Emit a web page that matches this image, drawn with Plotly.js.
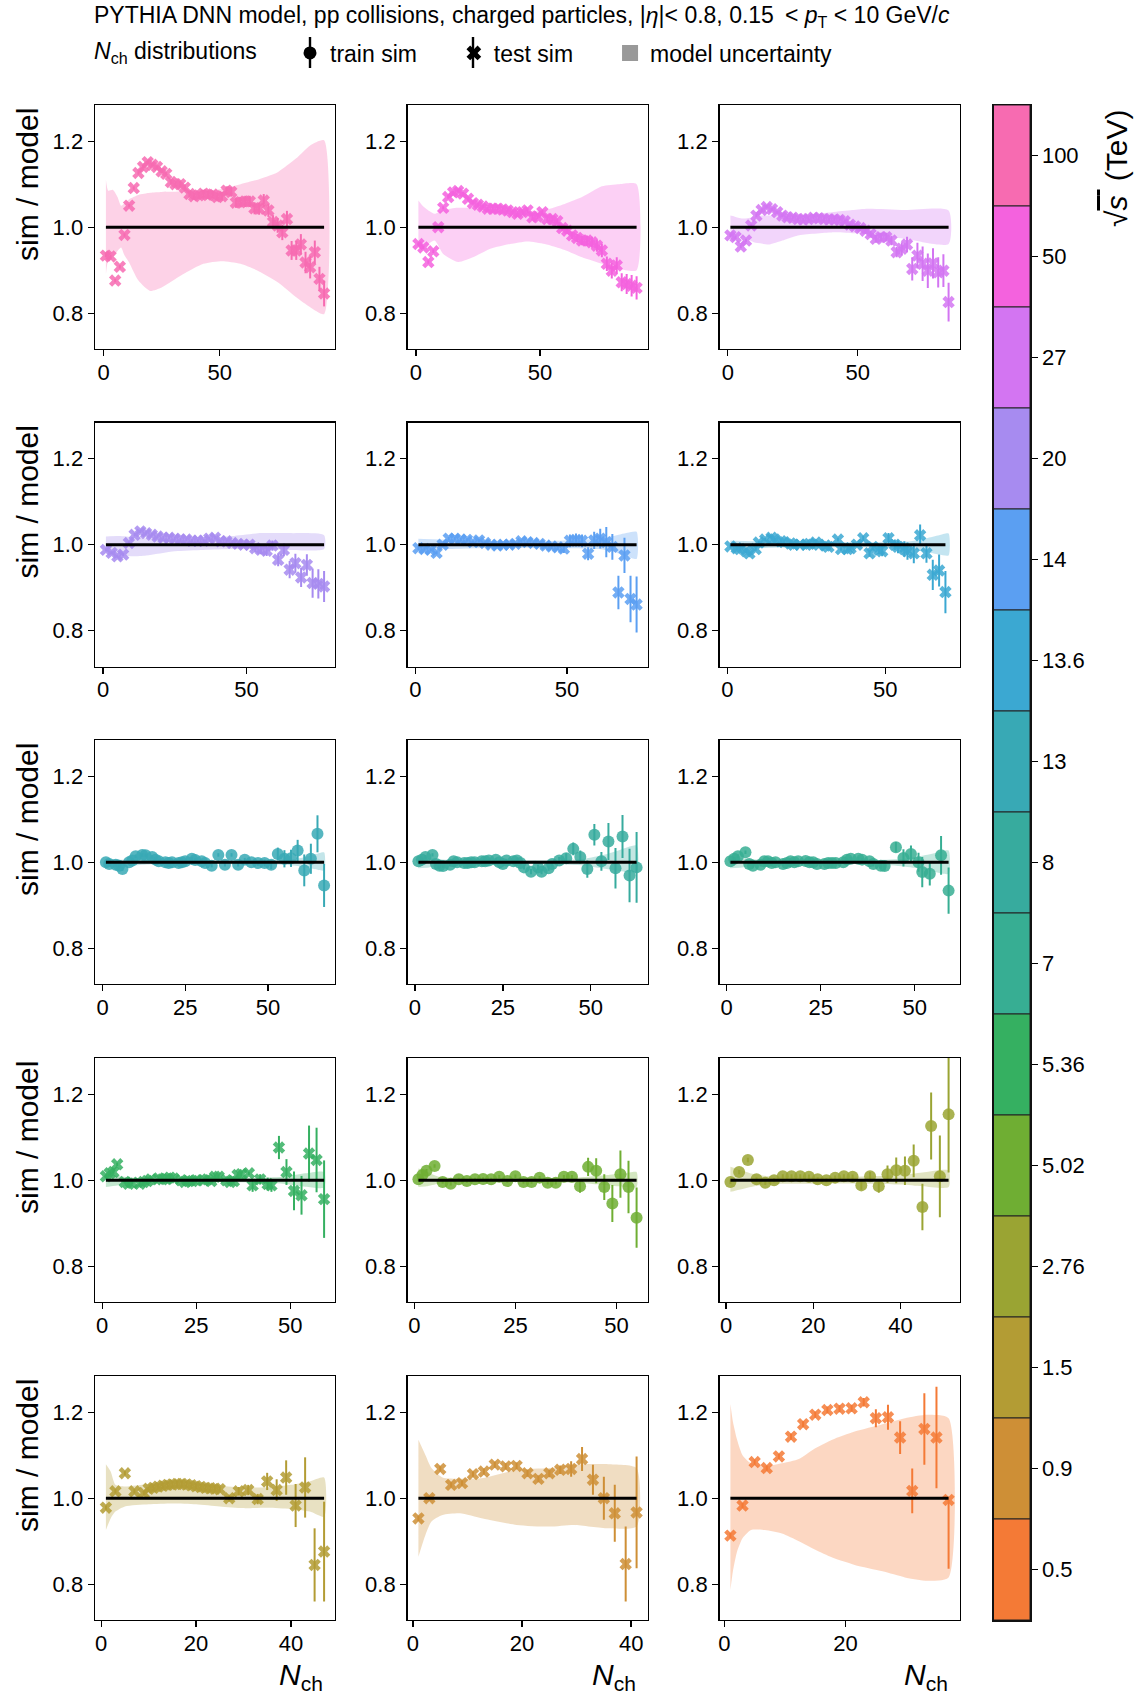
<!DOCTYPE html>
<html><head><meta charset="utf-8">
<script src="https://cdn.plot.ly/plotly-3.0.1.min.js"></script>
<style>html,body{margin:0;padding:0;background:#fff}#chart{width:1140px;height:1697px}</style>
</head><body><div id="chart"></div>
<script>
// ---------------- data ----------------
const energies = ["100","50","27","20","14","13.6","13","8","7","5.36","5.02","2.76","1.5","0.9","0.5"];
const colors = ["#f76bb1","#f462de","#d375f2","#a78bf0","#5b9ff2","#3ba8d2","#38a9b5","#37ab9e","#37ae93","#35b061","#6fae33","#9aa433","#b39c34","#ce8f36","#f47a36"];
const isTrain = [false,false,false,false,false,false,true,true,true,false,true,true,false,false,false];
const refRatio = 1.0;

const nch_100 = [1,3,5,7,9,11,13,15,17,19,21,23,25,27,29,31,33,35,37,39,41,43,45,47,49,51,53,55,57,59,61,63,65,67,69,71,73,75,77,79,81,83,85,87,89,91,93,95];
const ratio_100 = [0.934,0.932,0.876,0.908,0.982,1.05,1.091,1.126,1.14,1.151,1.145,1.14,1.13,1.124,1.105,1.10,1.10,1.092,1.077,1.072,1.074,1.078,1.075,1.076,1.07,1.072,1.085,1.082,1.057,1.058,1.06,1.06,1.044,1.043,1.062,1.039,1.012,1.004,0.988,1.019,0.946,0.946,0.96,0.918,0.907,0.942,0.88,0.846];
const err_100 = [0.004,0.004,0.004,0.004,0.004,0.004,0.004,0.004,0.004,0.004,0.004,0.004,0.004,0.004,0.006,0.006,0.007,0.007,0.008,0.008,0.008,0.009,0.009,0.009,0.01,0.01,0.01,0.011,0.012,0.012,0.013,0.013,0.014,0.014,0.015,0.015,0.016,0.017,0.018,0.019,0.022,0.022,0.024,0.025,0.026,0.027,0.028,0.03];
const band_nch_100 = [1,2,4,6,7.5,9,11,15,20,25,34,43,51,59,66,75,83,89,95];
const band_hi_100 = [1.11,1.085,1.087,1.07,1.05,1.055,1.065,1.075,1.08,1.082,1.083,1.085,1.089,1.10,1.11,1.128,1.16,1.19,1.202];
const band_lo_100 = [0.891,0.922,0.93,0.945,0.953,0.935,0.918,0.876,0.852,0.86,0.89,0.915,0.921,0.915,0.90,0.872,0.837,0.814,0.798];

const nch_50 = [1,3,5,7,9,11,13,15,17,19,21,23,25,27,29,31,33,35,37,39,41,43,45,47,49,51,53,55,57,59,61,63,65,67,69,71,73,75,77,79,81,83,85,87,89];
const ratio_50 = [0.961,0.953,0.919,0.944,1.0,1.045,1.07,1.081,1.084,1.078,1.066,1.056,1.052,1.048,1.043,1.043,1.043,1.041,1.039,1.035,1.031,1.035,1.039,1.023,1.025,1.035,1.019,1.019,1.014,0.998,0.992,0.981,0.975,0.969,0.969,0.965,0.957,0.946,0.915,0.899,0.911,0.872,0.868,0.864,0.859];
const err_50 = [0.004,0.004,0.004,0.004,0.004,0.004,0.004,0.004,0.004,0.004,0.004,0.004,0.004,0.004,0.004,0.004,0.004,0.004,0.004,0.004,0.006,0.006,0.006,0.006,0.006,0.006,0.006,0.006,0.006,0.006,0.008,0.009,0.01,0.011,0.012,0.013,0.014,0.016,0.017,0.018,0.019,0.021,0.023,0.025,0.027];
const band_nch_50 = [1,3,7.5,11,17,23,30,38,45,52,60,67,75,82,89];
const band_hi_50 = [1.062,1.048,1.031,1.04,1.045,1.045,1.042,1.04,1.038,1.04,1.054,1.07,1.095,1.1,1.1];
const band_lo_50 = [0.953,0.953,0.969,0.938,0.919,0.93,0.95,0.961,0.967,0.961,0.947,0.93,0.915,0.903,0.90];

const nch_27 = [1,3,5,7,9,11,13,15,17,19,21,23,25,27,29,31,33,35,37,39,41,43,45,47,49,51,53,55,57,59,61,63,65,67,69,71,73,75,77,79,81,83,85];
const ratio_27 = [0.981,0.977,0.955,0.969,1.004,1.027,1.04,1.047,1.042,1.035,1.027,1.023,1.022,1.019,1.018,1.019,1.022,1.021,1.019,1.018,1.018,1.017,1.014,1.006,1.002,0.998,0.992,0.984,0.973,0.977,0.977,0.969,0.942,0.95,0.96,0.903,0.934,0.915,0.899,0.916,0.895,0.899,0.826];
const err_27 = [0.004,0.004,0.004,0.004,0.004,0.004,0.004,0.004,0.004,0.004,0.004,0.004,0.004,0.004,0.004,0.004,0.004,0.004,0.004,0.004,0.004,0.004,0.004,0.004,0.006,0.007,0.008,0.008,0.009,0.01,0.01,0.011,0.012,0.015,0.018,0.027,0.03,0.04,0.04,0.035,0.035,0.038,0.045];
const band_nch_27 = [1,3,6,10,13,16,21,27,40,48,54,68,85];
const band_hi_27 = [1.027,1.024,1.02,1.024,1.027,1.027,1.027,1.027,1.035,1.04,1.043,1.04,1.039];
const band_lo_27 = [0.981,0.979,0.977,0.965,0.962,0.96,0.969,0.981,0.988,0.986,0.984,0.973,0.961];

const nch_20 = [1,3,5,7,9,11,13,15,17,19,21,23,25,27,29,31,33,35,37,39,41,43,45,47,49,51,53,55,57,59,61,63,65,67,69,71,73,75,77];
const ratio_20 = [0.988,0.981,0.973,0.977,1.004,1.023,1.031,1.027,1.023,1.019,1.016,1.016,1.014,1.012,1.012,1.009,1.009,1.009,1.014,1.016,1.008,1.008,1.004,1.002,1.0,1.0,0.992,0.988,0.986,0.998,0.965,0.988,0.942,0.957,0.924,0.953,0.911,0.909,0.903];
const err_20 = [0.004,0.004,0.004,0.004,0.004,0.004,0.004,0.004,0.004,0.004,0.004,0.004,0.004,0.004,0.004,0.004,0.004,0.004,0.004,0.004,0.004,0.004,0.004,0.004,0.004,0.004,0.01,0.01,0.012,0.012,0.015,0.015,0.02,0.022,0.022,0.025,0.034,0.034,0.036];
const band_nch_20 = [1,5,10,15,25,35,45,55,65,77];
const band_hi_20 = [1.019,1.02,1.018,1.015,1.013,1.014,1.02,1.027,1.027,1.022];
const band_lo_20 = [0.984,0.978,0.973,0.975,0.985,0.988,0.99,0.99,0.988,0.99];

const nch_14 = [1,3,5,7,9,11,13,15,17,19,21,23,25,27,29,31,33,35,37,39,41,43,45,47,49,51,53,55,57,59,61,63,65,67,69,71,73];
const ratio_14 = [0.992,0.990,0.988,0.981,1.0,1.014,1.014,1.012,1.011,1.006,1.010,1.004,1.0,0.998,1.0,1.0,1.002,1.008,1.006,1.004,1.002,0.998,0.996,0.994,0.991,1.009,1.011,1.009,0.979,1.01,1.014,1.006,0.995,0.889,0.975,0.874,0.861];
const err_14 = [0.004,0.004,0.004,0.004,0.004,0.004,0.004,0.004,0.004,0.004,0.004,0.004,0.004,0.004,0.004,0.004,0.004,0.004,0.004,0.004,0.006,0.006,0.006,0.006,0.01,0.015,0.015,0.015,0.015,0.02,0.023,0.035,0.03,0.039,0.041,0.054,0.065];
const band_nch_14 = [1,10,20,30,40,50,60,65,70,73];
const band_hi_14 = [1.014,1.012,1.01,1.008,1.008,1.01,1.014,1.02,1.028,1.03];
const band_lo_14 = [0.988,0.99,0.992,0.993,0.993,0.992,0.99,0.985,0.972,0.967];

const nch_13p6 = [1,3,4,6,7,9,10,12,14,15,17,18,20,21,23,25,26,28,29,31,32,35,36,38,39,41,43,45,46,48,49,51,53,54,56,57,59,61,63,65,67,69];
const ratio_13p6 = [0.996,0.992,0.99,0.985,0.98,0.99,1.005,1.012,1.016,1.012,1.008,1.006,1.003,1.0,1.0,1.0,1.002,1.005,1.0,0.998,0.995,1.012,0.99,0.99,0.992,1.0,1.015,0.98,0.995,0.988,0.985,1.015,1.0,0.995,0.99,0.985,0.98,1.022,0.98,0.93,0.94,0.89];
const err_13p6 = [0.004,0.004,0.004,0.004,0.004,0.004,0.004,0.004,0.004,0.004,0.004,0.004,0.004,0.004,0.004,0.004,0.004,0.004,0.004,0.004,0.004,0.004,0.004,0.004,0.004,0.004,0.006,0.008,0.008,0.01,0.012,0.012,0.012,0.015,0.018,0.02,0.023,0.025,0.022,0.035,0.037,0.049];
const band_nch_13p6 = [1,10,20,30,40,50,58,63,67,70];
const band_hi_13p6 = [1.01,1.008,1.006,1.006,1.006,1.006,1.008,1.015,1.022,1.026];
const band_lo_13p6 = [0.99,0.992,0.994,0.994,0.994,0.993,0.99,0.983,0.977,0.975];

const nch_13 = [1,2,4,5,6,8,9,10,12,13,15,16,17,19,20,21,23,24,25,27,28,30,31,33,35,37,39,41,43,45,47,49,51,53,55,57,59,61,63,65,67];
const ratio_13 = [1.0,0.996,0.994,0.992,0.984,1.0,1.004,1.014,1.017,1.016,1.012,1.006,1.002,1.0,0.998,1.0,0.998,1.0,1.002,1.008,1.005,1.002,0.998,0.992,1.017,0.994,1.017,0.994,1.006,1.0,0.998,0.998,0.994,1.019,1.008,1.009,1.027,0.981,1.008,1.066,0.946];
const err_13 = [0.004,0.004,0.004,0.004,0.004,0.004,0.004,0.004,0.004,0.004,0.004,0.004,0.004,0.004,0.004,0.004,0.004,0.004,0.004,0.004,0.004,0.004,0.004,0.004,0.004,0.004,0.004,0.004,0.004,0.004,0.006,0.008,0.01,0.015,0.02,0.02,0.025,0.037,0.035,0.043,0.05];
const band_nch_13 = [1,5,15,30,45,55,60,64,67];
const band_hi_13 = [1.008,1.006,1.005,1.004,1.004,1.006,1.01,1.018,1.023];
const band_lo_13 = [0.988,0.99,0.995,0.996,0.996,0.994,0.99,0.984,0.981];

const nch_8 = [1,2,3,5,6,7,8,10,11,12,14,15,16,17,19,20,21,23,24,25,26,28,29,30,31,33,35,36,38,39,41,43,45,47,49,51,53,55,57,59,61,63];
const ratio_8 = [1.002,1.006,1.012,1.017,0.996,0.992,0.991,0.994,1.002,1.0,0.998,0.998,1.0,1.0,1.002,1.002,1.004,1.006,1.0,0.996,1.004,1.002,1.004,0.998,0.988,0.978,0.988,0.978,0.986,0.996,1.004,1.009,1.031,1.012,0.984,1.064,1.002,1.048,0.986,1.06,0.969,0.988];
const err_8 = [0.004,0.004,0.004,0.004,0.004,0.004,0.004,0.004,0.004,0.004,0.004,0.004,0.004,0.004,0.004,0.004,0.004,0.004,0.004,0.004,0.004,0.004,0.004,0.004,0.005,0.006,0.006,0.006,0.006,0.006,0.008,0.012,0.015,0.015,0.02,0.025,0.022,0.043,0.047,0.05,0.062,0.082];
const band_nch_8 = [1,4,10,20,30,40,48,54,58,63];
const band_hi_8 = [1.012,1.01,1.005,1.004,1.004,1.005,1.008,1.018,1.028,1.039];
const band_lo_8 = [0.986,0.988,0.995,0.996,0.996,0.995,0.992,0.985,0.98,0.977];

const nch_7 = [1,2,3,5,6,7,9,10,11,12,13,15,16,17,18,19,21,22,23,24,26,27,28,29,31,32,33,35,36,38,39,41,42,45,47,49,51,52,54,57,59];
const ratio_7 = [1.002,1.008,1.014,1.023,0.996,0.992,0.994,1.002,1.002,0.998,1.0,0.996,0.998,1.002,1.0,1.002,1.003,1.0,1.0,0.996,0.996,0.998,0.998,0.998,1.0,1.006,1.008,1.008,1.006,1.002,0.996,0.992,0.991,1.035,1.01,1.019,1.0,0.977,0.973,1.016,0.934];
const err_7 = [0.004,0.004,0.004,0.004,0.004,0.004,0.004,0.004,0.004,0.004,0.004,0.004,0.004,0.004,0.004,0.004,0.004,0.004,0.004,0.004,0.004,0.004,0.004,0.004,0.004,0.004,0.004,0.004,0.004,0.004,0.006,0.008,0.01,0.012,0.02,0.02,0.022,0.035,0.027,0.045,0.054];
const band_nch_7 = [1,4,10,20,30,40,47,52,56,59];
const band_hi_7 = [1.012,1.01,1.005,1.004,1.004,1.005,1.008,1.015,1.022,1.027];
const band_lo_7 = [0.986,0.988,0.995,0.996,0.996,0.995,0.99,0.984,0.976,0.973];

const nch_5p36 = [1,2,3,4,6,7,8,10,11,12,13,15,16,17,18,19,21,22,23,24,25,27,28,29,30,31,33,34,35,36,37,39,40,42,44,45,47,49,51,53,55,57,59];
const ratio_5p36 = [1.009,1.016,1.019,1.037,0.996,0.992,0.994,0.992,0.996,0.998,1.002,1.004,1.002,1.003,1.006,1.004,1.0,0.996,0.998,0.998,1.0,1.0,1.002,0.998,1.008,1.008,1.0,0.996,0.998,1.012,1.014,1.016,0.988,1.002,0.991,0.988,1.076,1.019,0.975,0.965,1.062,1.047,0.956];
const err_5p36 = [0.004,0.004,0.004,0.004,0.004,0.004,0.004,0.004,0.004,0.004,0.004,0.004,0.004,0.004,0.004,0.004,0.004,0.004,0.004,0.004,0.004,0.004,0.004,0.004,0.004,0.004,0.004,0.004,0.004,0.004,0.004,0.004,0.015,0.012,0.015,0.015,0.027,0.03,0.045,0.045,0.065,0.075,0.09];
const band_nch_5p36 = [1,4,10,20,30,40,48,54,59];
const band_hi_5p36 = [1.016,1.01,1.005,1.004,1.004,1.005,1.008,1.016,1.019];
const band_lo_5p36 = [0.984,0.988,0.995,0.996,0.996,0.995,0.992,0.985,0.983];

const nch_5p02 = [1,2,3,5,7,9,11,13,15,17,19,21,23,25,27,29,31,33,35,37,39,41,43,45,47,49,51,53,55];
const ratio_5p02 = [1.002,1.012,1.022,1.033,0.996,0.992,1.002,0.998,1.002,1.003,1.002,1.008,0.998,1.009,0.996,0.996,1.006,0.994,0.994,1.008,1.008,0.986,1.031,1.022,0.984,0.946,1.014,0.984,0.913];
const err_5p02 = [0.004,0.004,0.004,0.004,0.004,0.004,0.004,0.004,0.004,0.004,0.004,0.004,0.004,0.004,0.004,0.004,0.004,0.004,0.004,0.004,0.004,0.015,0.021,0.029,0.03,0.043,0.055,0.061,0.07];
const band_nch_5p02 = [1,3,6,12,20,30,40,48,52,55];
const band_hi_5p02 = [1.027,1.02,1.008,1.005,1.004,1.004,1.006,1.012,1.016,1.019];
const band_lo_5p02 = [0.984,0.986,0.992,0.995,0.996,0.996,0.994,0.988,0.985,0.984];

const nch_2p76 = [1,3,5,7,9,11,13,15,17,19,21,23,25,27,29,31,33,35,37,39,41,43,45,47,49,51];
const ratio_2p76 = [0.996,1.019,1.047,1.002,0.994,1.0,1.009,1.009,1.009,1.008,1.002,1.0,1.006,1.009,1.008,0.988,1.009,0.986,1.014,1.023,1.022,1.045,0.938,1.126,1.009,1.153];
const err_2p76 = [0.005,0.005,0.005,0.005,0.005,0.005,0.005,0.005,0.005,0.005,0.005,0.005,0.005,0.005,0.005,0.01,0.01,0.015,0.02,0.03,0.033,0.038,0.054,0.078,0.095,0.135];
const band_nch_2p76 = [1,3,6,10,20,30,40,45,51];
const band_hi_2p76 = [1.031,1.025,1.015,1.009,1.008,1.008,1.012,1.018,1.023];
const band_lo_2p76 = [0.973,0.978,0.985,0.991,0.992,0.992,0.99,0.986,0.984];

const nch_1p5 = [1,3,5,7,9,10,11,12,13,14,15,16,17,18,19,20,21,22,23,24,25,27,29,31,33,35,37,39,41,43,45,47];
const ratio_1p5 = [0.978,1.016,1.058,1.016,1.012,1.022,1.024,1.027,1.029,1.031,1.032,1.033,1.033,1.032,1.03,1.028,1.026,1.024,1.023,1.022,1.021,1.0,1.016,1.019,0.998,1.039,1.019,1.048,0.983,1.025,0.845,0.876];
const err_1p5 = [0.005,0.005,0.005,0.005,0.005,0.005,0.005,0.005,0.005,0.005,0.005,0.005,0.005,0.005,0.005,0.005,0.005,0.005,0.005,0.005,0.005,0.008,0.01,0.012,0.012,0.02,0.025,0.04,0.05,0.07,0.085,0.116];
const band_nch_1p5 = [1,2,3,5,10,15,20,25,30,35,40,44,47];
const band_hi_1p5 = [1.079,1.062,1.031,1.027,1.033,1.035,1.033,1.029,1.025,1.025,1.031,1.039,1.048];
const band_lo_1p5 = [0.926,0.953,0.969,0.981,0.986,0.988,0.986,0.981,0.977,0.978,0.975,0.969,0.957];

const nch_0p9 = [1,3,5,7,9,11,13,15,17,19,21,23,25,27,29,31,33,35,37,39,41];
const ratio_0p9 = [0.953,1.0,1.068,1.031,1.035,1.056,1.062,1.078,1.074,1.075,1.058,1.045,1.058,1.066,1.068,1.091,1.043,1.0,0.965,0.847,0.967];
const err_0p9 = [0.006,0.006,0.006,0.006,0.006,0.006,0.007,0.007,0.007,0.008,0.008,0.008,0.009,0.01,0.018,0.028,0.035,0.05,0.066,0.087,0.13];
const band_nch_0p9 = [1,2.3,3.4,5.4,8.6,12.8,19,25,29.5,35.8,41];
const band_hi_0p9 = [1.136,1.1,1.07,1.048,1.045,1.047,1.066,1.07,1.078,1.079,1.07];
const band_lo_0p9 = [0.864,0.915,0.946,0.961,0.965,0.953,0.938,0.934,0.938,0.93,0.934];

const nch_0p5 = [1,3,5,7,9,11,13,15,17,19,21,23,25,27,29,31,33,35,37];
const ratio_0p5 = [0.913,0.983,1.084,1.07,1.097,1.143,1.172,1.194,1.205,1.208,1.209,1.223,1.186,1.188,1.141,1.017,1.161,1.141,0.996];
const err_0p5 = [0.006,0.006,0.006,0.006,0.006,0.007,0.007,0.007,0.008,0.008,0.008,0.01,0.021,0.029,0.038,0.052,0.083,0.118,0.16];
const err_up_0p5 = [0.006,0.006,0.006,0.006,0.006,0.007,0.007,0.007,0.008,0.008,0.008,0.01,0.021,0.029,0.038,0.052,0.083,0.118,0.0];
const band_nch_0p5 = [1,1.4,2.1,3,4.4,6.7,9.5,12.3,15,17.8,21.5,26.1,29.8,33.5,37];
const band_hi_0p5 = [1.219,1.179,1.136,1.1,1.081,1.074,1.081,1.091,1.116,1.136,1.155,1.172,1.186,1.194,1.186];
const band_lo_0p5 = [0.787,0.829,0.876,0.907,0.926,0.926,0.918,0.9,0.88,0.862,0.845,0.83,0.816,0.808,0.816];

const yTickVals = [0.8, 1.0, 1.2];
const yTickText = ["0.8", "1.0", "1.2"];

// ---------------- layout constants ----------------
const W = 1140, H = 1697;
const FONT = 'Liberation Sans, Arial, sans-serif';
const colLeft = [95, 407.5, 719.5], panelW = 240;
const rowTop = [105, 422.5, 740, 1058, 1376], panelH = 244;
const yRange = [0.717, 1.284];
const dticks = [50,50,50,50,50,50,25,25,25,25,25,20,20,20,20];

const panels = [
  {nch:nch_100, r:ratio_100, e:err_100, bx:band_nch_100, hi:band_hi_100, lo:band_lo_100},
  {nch:nch_50, r:ratio_50, e:err_50, bx:band_nch_50, hi:band_hi_50, lo:band_lo_50},
  {nch:nch_27, r:ratio_27, e:err_27, bx:band_nch_27, hi:band_hi_27, lo:band_lo_27},
  {nch:nch_20, r:ratio_20, e:err_20, bx:band_nch_20, hi:band_hi_20, lo:band_lo_20},
  {nch:nch_14, r:ratio_14, e:err_14, bx:band_nch_14, hi:band_hi_14, lo:band_lo_14},
  {nch:nch_13p6, r:ratio_13p6, e:err_13p6, bx:band_nch_13p6, hi:band_hi_13p6, lo:band_lo_13p6},
  {nch:nch_13, r:ratio_13, e:err_13, bx:band_nch_13, hi:band_hi_13, lo:band_lo_13},
  {nch:nch_8, r:ratio_8, e:err_8, bx:band_nch_8, hi:band_hi_8, lo:band_lo_8},
  {nch:nch_7, r:ratio_7, e:err_7, bx:band_nch_7, hi:band_hi_7, lo:band_lo_7},
  {nch:nch_5p36, r:ratio_5p36, e:err_5p36, bx:band_nch_5p36, hi:band_hi_5p36, lo:band_lo_5p36},
  {nch:nch_5p02, r:ratio_5p02, e:err_5p02, bx:band_nch_5p02, hi:band_hi_5p02, lo:band_lo_5p02},
  {nch:nch_2p76, r:ratio_2p76, e:err_2p76, bx:band_nch_2p76, hi:band_hi_2p76, lo:band_lo_2p76},
  {nch:nch_1p5, r:ratio_1p5, e:err_1p5, bx:band_nch_1p5, hi:band_hi_1p5, lo:band_lo_1p5},
  {nch:nch_0p9, r:ratio_0p9, e:err_0p9, bx:band_nch_0p9, hi:band_hi_0p9, lo:band_lo_0p9},
  {nch:nch_0p5, r:ratio_0p5, e:err_0p5, eUp:err_up_0p5, bx:band_nch_0p5, hi:band_hi_0p5, lo:band_lo_0p5}
];

function rgba(hex, a) {
  const n = parseInt(hex.slice(1), 16);
  return 'rgba(' + ((n >> 16) & 255) + ',' + ((n >> 8) & 255) + ',' + (n & 255) + ',' + a + ')';
}
const px2x = p => p / W;
const px2y = p => 1 - p / H;

const traces = [];
const layout = {
  width: W, height: H,
  margin: {l: 0, r: 0, t: 0, b: 0},
  paper_bgcolor: 'white', plot_bgcolor: 'rgba(0,0,0,0)',
  font: {family: FONT, color: 'black', size: 22},
  showlegend: true,
  legend: {
    orientation: 'h', x: px2x(290), xanchor: 'left', y: px2y(53), yanchor: 'middle',
    font: {family: FONT, size: 23, color: 'black'}, bgcolor: 'rgba(0,0,0,0)', borderwidth: 0,
    traceorder: 'normal', itemsizing: 'trace'
  },
  annotations: [], shapes: []
};

const axisStyle = {
  showline: true, mirror: true, linecolor: 'black', linewidth: 1.4,
  ticks: 'outside', ticklen: 6, tickwidth: 1.3, tickcolor: 'black',
  showgrid: false, zeroline: false,
  tickfont: {family: FONT, size: 22, color: 'black'}
};

panels.forEach((p, i) => {
  const row = Math.floor(i / 3), col = i % 3;
  const sfx = i === 0 ? '' : String(i + 1);
  const xa = 'x' + sfx, ya = 'y' + sfx;
  const c = colors[i];
  const xmin = Math.min(p.nch[0], p.bx[0]);
  const xmax = Math.max(p.nch[p.nch.length - 1], p.bx[p.bx.length - 1]);
  const pad = 0.05 * (xmax - xmin);
  layout['xaxis' + sfx] = Object.assign({}, axisStyle, {
    domain: [px2x(colLeft[col]), px2x(colLeft[col] + panelW)],
    range: [xmin - pad, xmax + pad], anchor: ya,
    tickmode: 'linear', tick0: 0, dtick: dticks[i], ticklabelstandoff: -3
  });
  layout['yaxis' + sfx] = Object.assign({}, axisStyle, {
    domain: [px2y(rowTop[row] + panelH), px2y(rowTop[row])],
    range: yRange, anchor: xa,
    tickmode: 'array', tickvals: yTickVals, ticktext: yTickText
  });
  // model uncertainty band
  traces.push({
    type: 'scatter', mode: 'lines', xaxis: xa, yaxis: ya,
    x: p.bx.concat(p.bx.slice().reverse()),
    y: p.hi.concat(p.lo.slice().reverse()),
    fill: 'toself', fillcolor: rgba(c, 0.3),
    line: {width: 0, color: rgba(c, 0), shape: 'spline', smoothing: 0.6},
    showlegend: false, hoverinfo: 'skip'
  });
  // markers
  traces.push({
    type: 'scatter', mode: 'markers', xaxis: xa, yaxis: ya,
    x: p.nch, y: p.r,
    marker: {symbol: isTrain[i] ? 'circle' : 'x', size: isTrain[i] ? 12 : 11, color: rgba(c, 0.85), line: {width: 0}},
    showlegend: false, hoverinfo: 'skip'
  });
  // error bars (drawn over markers)
  traces.push({
    type: 'scatter', mode: 'markers', xaxis: xa, yaxis: ya,
    x: p.nch, y: p.r,
    marker: {size: 2, opacity: 0},
    error_y: p.eUp ? {type: 'data', symmetric: false, array: p.eUp, arrayminus: p.e, color: c, thickness: 2, width: 0}
                   : {type: 'data', symmetric: true, array: p.e, color: c, thickness: 2, width: 0},
    showlegend: false, hoverinfo: 'skip'
  });
  // reference line at 1
  traces.push({
    type: 'scatter', mode: 'lines', xaxis: xa, yaxis: ya,
    x: [p.nch[0], p.nch[p.nch.length - 1]], y: [refRatio, refRatio],
    line: {color: 'black', width: 3},
    showlegend: false, hoverinfo: 'skip'
  });
  if (col === 0) {
    layout.annotations.push({
      xref: 'paper', yref: 'paper', x: px2x(27), y: px2y(rowTop[row] + panelH / 2 - 42),
      xanchor: 'center', yanchor: 'middle', textangle: -90, showarrow: false,
      text: 'sim / model', font: {family: FONT, size: 30, color: 'black'}
    });
  }
  if (row === 4) {
    layout.annotations.push({
      xref: 'paper', yref: 'paper', x: px2x(colLeft[col] + panelW - 10), y: px2y(1676),
      xanchor: 'right', yanchor: 'middle', showarrow: false,
      text: '<i>N</i><sub>ch</sub>', font: {family: FONT, size: 30, color: 'black'}
    });
  }
});

// discrete colour bar built from the energies list
const nE = energies.length;
const cbSfx = String(nE + 1);
layout['xaxis' + cbSfx] = {
  domain: [px2x(993.5), px2x(1030)], range: [-0.5, 0.5], anchor: 'y' + cbSfx,
  showline: true, mirror: true, linecolor: '#111', linewidth: 1.5,
  ticks: '', showticklabels: false, showgrid: false, zeroline: false
};
layout['yaxis' + cbSfx] = Object.assign({}, axisStyle, {
  domain: [px2y(rowTop[4] + panelH), px2y(rowTop[0])], range: [0, nE], anchor: 'x' + cbSfx,
  side: 'right', linecolor: '#111', linewidth: 1.5,
  tickmode: 'array', tickvals: energies.map((e, i) => nE - 1 - i + 0.5), ticktext: energies
});
traces.push({
  type: 'bar', xaxis: 'x' + cbSfx, yaxis: 'y' + cbSfx,
  x: energies.map(() => 0), y: energies.map(() => 1), base: energies.map((e, i) => nE - 1 - i),
  width: 1, marker: {color: colors, line: {color: '#222', width: 1}},
  showlegend: false, hoverinfo: 'skip'
});

// legend entries
const pad5 = '\u00a0\u00a0\u00a0\u00a0\u00a0';
traces.push({type: 'scatter', mode: 'markers', x: [null], y: [null], name: 'train sim' + pad5,
  marker: {symbol: 'circle', size: 13, color: 'black'}, showlegend: true});
traces.push({type: 'scatter', mode: 'markers', x: [null], y: [null], name: 'test sim' + pad5,
  marker: {symbol: 'x', size: 13, color: 'black'}, showlegend: true});
traces.push({type: 'scatter', mode: 'markers', x: [null], y: [null], name: 'model uncertainty',
  marker: {symbol: 'square', size: 16, color: '#999999'}, showlegend: true});

// error-bar strokes of the legend handles
[310, 473].forEach(xp => layout.shapes.push({
  type: 'line', xref: 'paper', yref: 'paper', x0: px2x(xp), x1: px2x(xp), y0: px2y(37), y1: px2y(68),
  line: {color: 'black', width: 2.4}
}));

layout.annotations.push({
  xref: 'paper', yref: 'paper', x: px2x(92), y: px2y(17), xanchor: 'left', yanchor: 'middle', showarrow: false,
  text: 'PYTHIA DNN model, pp collisions, charged particles, |<i>η</i>|< 0.8, 0.15 \u2009< <i>p</i><sub>T</sub> < 10 GeV/<i>c</i>',
  font: {family: FONT, size: 23, color: 'black'}
});
layout.annotations.push({
  xref: 'paper', yref: 'paper', x: px2x(92), y: px2y(53), xanchor: 'left', yanchor: 'middle', showarrow: false,
  text: '<i>N</i><sub>ch</sub> distributions', font: {family: FONT, size: 23, color: 'black'}
});
layout.annotations.push({
  xref: 'paper', yref: 'paper', x: px2x(1116), y: px2y(168), xanchor: 'center', yanchor: 'middle',
  textangle: -90, showarrow: false,
  text: '√<span style="text-decoration:overline"><i>s</i>\u2009</span> (TeV)', font: {family: FONT, size: 30, color: 'black'}
});

Plotly.newPlot('chart', traces, layout, {staticPlot: true, displayModeBar: false});
</script></body></html>
